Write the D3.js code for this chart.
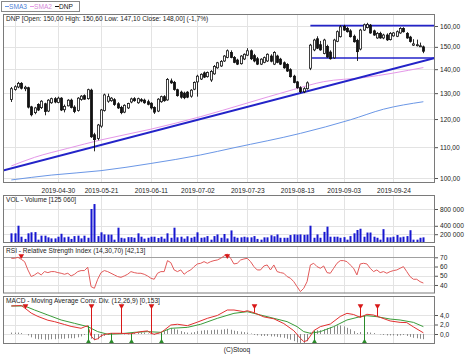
<!DOCTYPE html>
<html><head><meta charset="utf-8">
<script src="https://cdn.jsdelivr.net/npm/d3@7/dist/d3.min.js"></script>
<style>
body{margin:0;background:#fff}
svg{display:block}
text{font-family:"Liberation Sans",Arial,sans-serif}
</style>
</head><body>
<svg id="c" width="474" height="355"></svg>
<script>
// ---------------- DATA ----------------
const dateLabels = ["2019-04-30","2019-05-21","2019-06-11","2019-07-02","2019-07-23","2019-08-13","2019-09-03","2019-09-24"];
const dateLabelIdx = [14,27,42,56,71,86,100,115];
const gridIdx = [1,14,27,42,56,71,86,100,115];

const open  = [127.5,131.5,132.5,134.0,131.8,132.2,124.6,122.4,125.5,124.3,125.8,123.0,126.2,127.8,126.3,128.0,123.5,125.0,127.2,124.5,123.2,127.5,129.0,127.8,131.2,114.3,113.0,117.4,123.2,126.8,127.0,127.4,125.8,124.4,122.6,124.2,126.5,127.8,126.2,127.4,127.2,126.6,126.0,124.4,123.0,126.6,128.6,127.3,135.0,134.4,131.4,130.4,130.0,130.4,128.8,131.6,134.6,135.8,138.4,136.8,135.4,138.0,140.6,141.4,143.6,145.2,147.4,145.2,144.0,142.4,144.5,146.2,148.2,146.0,144.6,142.2,143.0,143.6,145.8,142.2,145.8,144.4,142.8,142.0,139.8,137.0,134.6,132.2,130.6,131.8,140.4,148.6,153.8,151.0,147.0,150.2,147.6,145.0,152.6,154.8,159.8,158.8,157.6,155.0,153.0,149.0,158.0,159.2,160.4,157.6,154.2,156.4,154.2,155.6,153.4,155.2,155.0,156.6,158.8,156.4,154.6,150.8,150.6,150.4,150.0];
const high  = [132.5,133.2,134.6,134.5,133.0,132.6,125.0,124.6,126.0,127.2,126.2,127.6,128.2,128.4,128.6,128.4,125.5,127.6,127.8,125.2,128.4,129.2,129.5,131.8,131.8,115.0,118.2,123.8,129.8,129.8,128.4,128.0,126.4,125.0,125.6,126.2,128.2,128.4,128.2,128.0,127.8,127.4,126.4,124.8,128.0,129.0,129.2,136.2,136.0,135.0,131.8,131.0,130.6,130.8,131.6,134.8,137.6,138.2,139.0,139.0,139.6,141.8,143.2,144.0,146.2,148.8,148.4,145.8,144.6,146.2,147.0,149.4,148.8,146.8,145.4,144.8,145.6,147.0,146.6,148.0,146.4,145.0,143.4,142.6,140.4,137.6,135.0,132.8,132.4,134.8,151.4,153.8,155.0,152.8,153.8,151.0,148.4,153.8,157.8,160.4,160.6,159.6,158.4,155.8,153.8,158.6,161.2,161.6,161.0,158.2,157.0,157.2,156.2,156.4,157.0,157.0,157.8,159.4,159.4,157.0,155.2,153.6,153.4,152.0,150.6];
const low   = [126.5,131.0,132.0,131.5,130.8,124.0,121.0,121.8,123.0,123.8,121.4,122.6,125.8,126.0,126.0,123.0,122.5,124.8,124.0,122.2,122.8,127.0,127.4,127.4,113.2,108.6,112.4,116.8,122.8,126.2,126.6,125.0,123.8,121.8,122.2,123.8,126.0,126.6,125.8,126.4,125.8,125.2,123.6,121.9,122.6,126.2,126.6,127.0,133.8,131.0,128.6,127.8,127.6,128.0,128.2,131.2,128.6,135.4,136.2,136.4,134.6,137.6,140.2,141.0,143.2,144.8,144.8,142.6,141.8,142.0,144.0,145.8,144.0,143.0,141.8,141.8,142.6,143.2,143.0,141.8,142.6,141.8,140.2,138.8,136.4,134.0,131.8,130.0,130.0,131.4,139.6,148.0,149.0,148.2,146.6,145.0,144.2,144.6,152.2,154.4,157.6,156.8,154.4,152.0,143.6,148.4,157.6,158.8,156.2,155.2,153.8,153.8,153.6,152.8,153.0,154.8,154.6,156.2,156.8,153.8,152.0,150.4,150.2,150.0,147.1];
const close = [131.8,132.6,134.0,132.0,132.4,124.5,121.6,124.2,123.4,126.8,122.8,127.2,127.8,126.5,128.0,123.4,124.8,127.2,124.4,122.8,128.0,128.8,127.6,131.4,113.6,112.6,117.8,123.4,129.3,128.6,128.0,125.5,124.2,122.4,125.2,125.9,127.7,127.0,127.8,126.9,126.2,125.6,124.2,122.6,127.6,128.6,127.0,135.6,134.2,131.5,129.0,128.4,128.2,128.4,131.2,134.4,137.0,137.8,136.6,138.6,139.0,141.2,142.8,143.4,145.8,148.2,145.2,143.0,142.2,145.8,146.6,148.2,144.6,143.6,142.2,144.4,145.1,146.6,143.5,147.4,143.0,142.2,140.6,139.2,136.8,134.4,132.2,130.6,131.8,134.2,150.8,153.2,149.4,148.6,153.2,145.4,144.6,153.2,157.2,159.6,158.0,157.2,154.8,152.4,147.8,158.0,160.6,160.8,156.6,155.6,156.4,154.2,155.6,153.3,156.4,156.6,157.2,158.8,157.2,154.2,152.5,151.4,151.0,150.5,148.0];

const volume = [221000,221000,402000,140000,88000,221000,245000,250000,70000,165000,165000,125000,100000,100000,140000,210000,125000,140000,88000,155000,165000,100000,165000,115000,800000,918000,155000,245000,195000,190000,190000,70000,355000,115000,100000,130000,130000,115000,221000,140000,95000,115000,140000,140000,110000,140000,95000,221000,115000,355000,125000,140000,95000,150000,115000,140000,245000,115000,125000,155000,70000,155000,195000,115000,205000,100000,290000,140000,115000,125000,140000,125000,125000,155000,88000,70000,125000,125000,175000,150000,195000,115000,115000,115000,180000,195000,190000,195000,185000,190000,402000,115000,195000,115000,255000,380000,140000,140000,140000,115000,130000,70000,155000,221000,300000,330000,140000,240000,240000,140000,115000,70000,320000,125000,125000,140000,180000,125000,140000,155000,295000,70000,70000,115000,125060];

// SMA samples [index, value]
const sma2Idx = [0,7,17,27,42,57,70,85,94,106,124];
const sma2Val = [103.8,106.6,109.6,112.5,116.3,120.9,125.7,131.5,134.7,136.4,140.7];
const sma3Idx = [0,12,27,42,57,67,87,102,112,124];
const sma3Val = [99.4,100.9,102.3,104.6,107.4,109.8,114.8,119.7,123.7,126.6];

// trend lines [index, price]
const trendLine  = [[-2.5,102.3],[127.5,144.9]];
const resistLine = [[90,160.2],[127.5,160.2]];
const supportLine= [[90.5,144.9],[127.5,144.9]];

const priceTicks = [100,110,120,130,140,150,160];
const volTicks = [200000,400000,800000];
const rsiTicks = [40,50,60,70];
const macdTicks = [0,2,4];

const rsi = [68.9,68.9,70.0,67.8,65.3,56.3,49.1,50.9,53.4,50.9,54.5,53.4,54.5,54.5,53.4,52.7,51.6,52.7,49.8,51.6,54.5,55.6,55.6,59.2,38.2,36.4,46.2,53.4,55.6,54.5,52.7,50.9,49.1,48.3,49.8,51.6,54.5,53.4,52.7,52.7,51.6,49.8,47.3,46.2,52.7,54.5,54.5,66.4,64.2,56.3,54.5,56.3,51.6,54.5,56.3,59.9,62.8,63.5,65.3,63.5,65.3,66.4,67.1,68.9,71.4,73.6,68.9,62.8,63.5,67.1,68.2,68.9,65.3,59.9,56.3,56.3,60.6,61.7,56.3,61.7,54.5,53.4,52.7,49.1,47.3,43.6,38.2,32.8,36.4,43.6,61.7,63.5,59.9,58.1,60.6,53.4,52.7,58.1,63.5,66.4,66.4,65.3,61.7,58.1,50.9,62.8,63.5,62.8,58.1,54.5,56.3,53.4,54.5,52.7,54.5,55.6,56.3,58.1,59.9,54.5,49.1,46.2,46.2,43.6,42.1];
const rsiSell = [3,65];

const macdIdx = [0,3,4,6,8,11,13,16,18,21,22,23,24,25,26,27,28,30,33,36,39,41,42,43,45,46,48,50,53,56,59,62,65,67,70,71,73,76,79,82,85,87,88,89,90,91,93,96,99,101,103,105,107,109,111,114,117,119,121,124];
const macdVal = [5.9,6.0,5.5,4.4,3.7,2.9,2.6,2.0,1.6,1.2,1.5,1.75,-0.4,-1.2,-1.0,-0.4,-0.1,0.15,0.15,0.05,0.5,0.65,0.15,-0.05,0.3,0.8,1.9,2.05,1.75,2.5,3.3,3.9,5.05,5.05,4.7,4.9,4.5,3.6,3.2,2.2,0.7,-0.9,-1.6,-1.4,-0.4,0.7,1.55,2.1,3.7,4.35,4.1,3.5,4.15,4.0,3.5,2.75,2.45,2.4,1.5,0.25];
const sigIdx = [0,4,7,11,15,19,23,26,29,33,37,41,45,48,53,57,62,67,71,75,79,83,86,88,90,93,97,101,105,107,110,114,117,121,124];
const sigVal = [5.9,5.9,5.05,4.0,2.95,2.25,1.55,0.5,-0.05,0.05,0.35,0.5,0.35,1.2,1.4,2.05,3.3,4.35,4.7,4.0,3.3,2.6,1.55,0.5,0.15,0.5,1.55,2.95,3.65,3.85,3.65,3.15,2.95,2.45,1.55];
const macdHist = [0.3,0.3,0.3,0.2,0.0,-0.3,-0.7,-1.0,-1.1,-1.1,-1.2,-1.2,-1.1,-1.1,-1.0,-1.0,-1.0,-0.9,-0.9,-0.9,-0.7,-0.5,-0.2,0.2,-1.0,-1.3,-1.1,-0.7,-0.4,-0.2,0.1,0.1,0.1,0.0,-0.1,-0.1,0.1,0.2,0.2,0.3,0.3,0.1,-0.1,-0.2,0.1,0.4,0.6,1.0,1.2,1.1,0.9,0.6,0.4,0.3,0.3,0.4,0.6,0.7,0.8,0.8,0.8,0.9,0.9,0.9,1.0,1.1,0.9,0.7,0.6,0.5,0.4,0.3,0.1,-0.2,-0.3,-0.4,-0.4,-0.4,-0.5,-0.5,-0.6,-0.7,-0.8,-1.0,-1.2,-1.5,-1.8,-2.0,-1.9,-1.5,0.3,0.6,0.8,0.8,1.0,1.2,1.4,1.6,1.8,1.8,1.6,1.3,1.0,0.6,0.2,0.4,0.5,0.4,0.3,0.2,0.0,-0.1,-0.2,-0.3,-0.3,-0.3,-0.4,-0.3,-0.2,-0.4,-0.6,-0.8,-0.9,-1.0,-1.1];
const macdSell = [4,24,33,42,73,105,110];
const macdBuy  = [23,30,36,45,91,106];

// ---------------- DRAW ----------------
const svg = d3.select("#c");
const FS = 6.6;
const L = 3, R = 435;
const P = {
  main:{t:14,b:183}, vol:{t:195,b:243}, rsi:{t:246,b:293.5}, macd:{t:296,b:344}
};
const N = close.length;
const x = d3.scaleLinear().domain([-2.5,127.5]).range([L,R]);
const yP = d3.scaleLog().domain([100,160]).range([178,26]);
const yV = d3.scaleLinear().domain([0,800000]).range([242.6,209]);
const yR = d3.scaleLinear().domain([30,70]).range([294.2,257.3]);
const yM = d3.scaleLinear().domain([0,4]).range([334,315]);

const GRID = "#e3e3e3", BORDER = "#7a7a7a";

function panel(key, yScale, ticks, fmt){
  const p = P[key];
  const g = svg.append("g");
  g.append("rect").attr("x",L).attr("y",p.t).attr("width",R-L).attr("height",p.b-p.t).attr("fill","#fff");
  g.selectAll("line.vg").data(gridIdx).join("line")
    .attr("x1",d=>Math.round(x(d))+0.5).attr("x2",d=>Math.round(x(d))+0.5)
    .attr("y1",p.t).attr("y2",p.b).attr("stroke",GRID).attr("stroke-width",1);
  g.selectAll("line.hg").data(ticks).join("line")
    .attr("x1",L).attr("x2",R)
    .attr("y1",d=>Math.round(yScale(d))+0.5).attr("y2",d=>Math.round(yScale(d))+0.5)
    .attr("stroke",GRID).attr("stroke-width",1);
  svg.append("defs").append("clipPath").attr("id","clip-"+key)
    .append("rect").attr("x",L).attr("y",p.t).attr("width",R-L).attr("height",p.b-p.t);
  const content = svg.append("g").attr("clip-path","url(#clip-"+key+")");
  const ax = d3.axisRight(yScale).tickValues(ticks).tickFormat(fmt).tickSize(3).tickPadding(2);
  const ag = svg.append("g").attr("transform",`translate(${R},0)`).call(ax);
  ag.select(".domain").remove();
  ag.selectAll("line").attr("stroke","#555");
  ag.selectAll("text").attr("font-size",FS).attr("fill","#222").attr("font-family",'"Liberation Sans",Arial,sans-serif');
  return {g, content, p};
}
function frame(key){
  const p = P[key];
  svg.append("rect").attr("x",L+0.5).attr("y",p.t+0.5).attr("width",R-L-1).attr("height",p.b-p.t-1)
    .attr("fill","none").attr("stroke",BORDER).attr("stroke-width",1);
}
function title(key, txt){
  svg.append("text").attr("x",L+3).attr("y",P[key].t+6.5).attr("font-size",FS).attr("fill","#222").text(txt);
}

// ---- MAIN ----
const main = panel("main", yP, priceTicks, d=>d3.format(".2f")(d).replace(".",","));
const mc = main.content;
const lineP = d3.line().x(d=>x(d[0])).y(d=>yP(d[1]));
const sma3 = sma3Idx.map((d,i)=>[d,sma3Val[i]]);
const sma2 = sma2Idx.map((d,i)=>[d,sma2Val[i]]);
mc.append("path").attr("d",lineP.curve(d3.curveMonotoneX)(sma3)).attr("fill","none").attr("stroke","#6b97e6").attr("stroke-width",1);
mc.append("path").attr("d",lineP.curve(d3.curveMonotoneX)(sma2)).attr("fill","none").attr("stroke","#e497e8").attr("stroke-width",1);
lineP.curve(d3.curveLinear);
mc.append("path").attr("d",lineP(trendLine)).attr("fill","none").attr("stroke","#2323c8").attr("stroke-width",2);
mc.append("path").attr("d",lineP(resistLine)).attr("fill","none").attr("stroke","#2323c8").attr("stroke-width",1.6);
mc.append("path").attr("d",lineP(supportLine)).attr("fill","none").attr("stroke","#2323c8").attr("stroke-width",1.6);

const idx = d3.range(N);
mc.selectAll("line.wick").data(idx).join("line")
  .attr("x1",i=>Math.round(x(i))+0.5).attr("x2",i=>Math.round(x(i))+0.5)
  .attr("y1",i=>yP(high[i])).attr("y2",i=>yP(low[i])).attr("stroke","#111").attr("stroke-width",0.9);
mc.selectAll("rect.body").data(idx).join("rect")
  .attr("x",i=>Math.round(x(i))-0.5)
  .attr("width",2)
  .attr("y",i=>yP(Math.max(open[i],close[i])))
  .attr("height",i=>Math.max(1,Math.abs(yP(open[i])-yP(close[i]))))
  .attr("fill",i=>close[i]>=open[i]?"#fff":"#111")
  .attr("stroke","#111").attr("stroke-width",0.8);
frame("main");
title("main","DNP [Open: 150,00  High: 150,60  Low: 147,10  Close: 148,00] (-1,7%)");

// date axis
const xa = d3.axisBottom(x).tickValues(dateLabelIdx).tickFormat((d,i)=>dateLabels[i]).tickSize(0).tickPadding(5);
const xg = svg.append("g").attr("transform",`translate(0,${P.main.b})`).call(xa);
xg.select(".domain").remove();
xg.selectAll("text").attr("font-size",FS).attr("fill","#222").attr("font-family",'"Liberation Sans",Arial,sans-serif');

// legend
const lg = svg.append("g");
lg.append("rect").attr("x",1.5).attr("y",1.5).attr("width",78).attr("height",10).attr("fill","#fff").attr("stroke","#888");
const legItems = [{t:"SMA3",c:"#6b97e6",tc:"#4f7fd6",x:5},{t:"SMA2",c:"#e497e8",tc:"#d58ad9",x:30},{t:"DNP",c:"#111",tc:"#111",x:55}];
legItems.forEach(it=>{
  lg.append("line").attr("x1",it.x).attr("x2",it.x+4).attr("y1",6.5).attr("y2",6.5).attr("stroke",it.c).attr("stroke-width",1);
  lg.append("text").attr("x",it.x+4).attr("y",9).attr("font-size",FS).attr("fill",it.tc).text(it.t);
});

// ---- VOLUME ----
const vol = panel("vol", yV, volTicks, d=>d3.format(",")(d).replace(/,/g," "));
vol.content.selectAll("rect.v").data(idx).join("rect")
  .attr("x",i=>Math.round(x(i))-0.5).attr("width",2)
  .attr("y",i=>yV(volume[i])).attr("height",i=>yV(0)-yV(volume[i])+1)
  .attr("fill","#1717d0");
frame("vol");
title("vol","VOL - Volume [125 060]");

// ---- RSI ----
const rs = panel("rsi", yR, rsiTicks, d=>d);
rs.content.append("line").attr("x1",L).attr("x2",R).attr("y1",Math.round(yR(70))+0.5).attr("y2",Math.round(yR(70))+0.5).attr("stroke","#a0a0a0");
rs.content.append("path").attr("d",d3.line().x((d,i)=>x(i)).y(d=>yR(d))(rsi)).attr("fill","none").attr("stroke","#e25a5a").attr("stroke-width",1);
const tri = d3.symbol().type(d3.symbolTriangle).size(14);
rs.content.selectAll("path.rs").data(rsiSell).join("path")
  .attr("d",tri).attr("transform",i=>`translate(${x(i)},${yR(70)-1.5}) rotate(180)`).attr("fill","#d81818");
frame("rsi");
title("rsi","RSI - Relative Strength Index (14,30,70) [42,13]");

// ---- MACD ----
const md = panel("macd", yM, macdTicks, d=>d3.format(".1f")(d).replace(".",","));
const mcd = md.content;
mcd.selectAll("line.h").data(idx).join("line")
  .attr("x1",i=>Math.round(x(i))+0.5).attr("x2",i=>Math.round(x(i))+0.5)
  .attr("y1",yM(0)).attr("y2",i=>yM(macdHist[i])).attr("stroke","#8a8a8a").attr("stroke-width",1);
const macdAt = d3.scaleLinear().domain(macdIdx).range(macdVal);
const lineM = d3.line().x(d=>x(d[0])).y(d=>yM(d[1]));
mcd.append("path").attr("d",lineM(sigIdx.map((d,i)=>[d,sigVal[i]]))).attr("fill","none").attr("stroke","#3a9c3a").attr("stroke-width",1);
mcd.append("path").attr("d",lineM(macdIdx.map((d,i)=>[d,macdVal[i]]))).attr("fill","none").attr("stroke","#e23030").attr("stroke-width",1);
const topMark = 306, botMark = 342;
mcd.selectAll("line.s").data(macdSell).join("line")
  .attr("x1",i=>Math.round(x(i))+0.5).attr("x2",i=>Math.round(x(i))+0.5)
  .attr("y1",topMark).attr("y2",i=>yM(macdAt(i))).attr("stroke","#d81818").attr("stroke-width",1);
mcd.selectAll("path.s").data(macdSell).join("path")
  .attr("d",tri).attr("transform",i=>`translate(${Math.round(x(i))+0.5},${topMark}) rotate(180)`).attr("fill","#d81818");
mcd.selectAll("line.b").data(macdBuy).join("line")
  .attr("x1",i=>Math.round(x(i))+0.5).attr("x2",i=>Math.round(x(i))+0.5)
  .attr("y1",botMark).attr("y2",i=>yM(macdAt(i))).attr("stroke","#2a8a2a").attr("stroke-width",1);
mcd.selectAll("path.b").data(macdBuy).join("path")
  .attr("d",tri).attr("transform",i=>`translate(${Math.round(x(i))+0.5},${botMark})`).attr("fill","#2a8a2a");
frame("macd");
title("macd","MACD - Moving Average Conv. Div. (12,26,9) [0,153]");

svg.append("text").attr("x",237).attr("y",351.5).attr("text-anchor","middle").attr("font-size",FS).attr("fill","#222").text("(C)Stooq");
</script>
</body></html>
